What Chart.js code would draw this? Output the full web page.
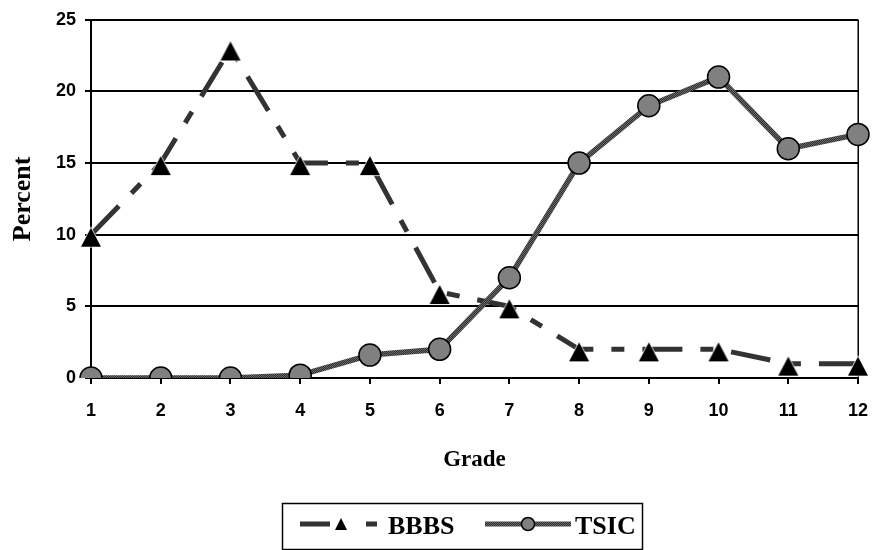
<!DOCTYPE html>
<html>
<head>
<meta charset="utf-8">
<script src="https://cdn.jsdelivr.net/npm/chart.js@4.4.1/dist/chart.umd.min.js"></script>
<style>
  html, body { margin: 0; padding: 0; background: #fff; }
  #wrap { width: 874px; height: 550px; position: relative; }
</style>
</head>
<body>
<div id="wrap"><canvas id="chart"></canvas></div>
<script>
const grades = ['1', '2', '3', '4', '5', '6', '7', '8', '9', '10', '11', '12'];
const bbbs = [10, 15, 23, 15, 15, 6, 5, 2, 2, 2, 1, 1];
const tsic = [0, 0, 0, 0.2, 1.6, 2, 7, 15, 19, 21, 16, 17];
const seriesNames = ['BBBS', 'TSIC'];
const yRange = [0, 25];
const yStep = 5;

const tickFont = { family: '"Liberation Sans", Arial, sans-serif', size: 18, weight: 'bold' };
const serif = '"Liberation Serif", "Times New Roman", serif';

// hatched grey used for the TSIC line
function hatch() {
  const c = document.createElement('canvas');
  c.width = 2; c.height = 2;
  const g = c.getContext('2d');
  g.fillStyle = '#2e2e2e'; g.fillRect(0, 0, 2, 2);
  g.fillStyle = '#6a6a6a'; g.fillRect(0, 0, 1, 1); g.fillRect(1, 1, 1, 1);
  return g.createPattern(c, 'repeat');
}

// excel style triangle: sits a little below the data point
function triangleMarker() {
  const c = document.createElement('canvas');
  c.width = 24; c.height = 40;
  const g = c.getContext('2d');
  g.beginPath();
  g.moveTo(12, 20 - 7);
  g.lineTo(22, 20 + 12);
  g.lineTo(2, 20 + 12);
  g.closePath();
  g.fillStyle = '#000';
  g.strokeStyle = '#fff';
  g.lineWidth = 1.5;
  g.stroke();
  g.fill();
  return c;
}

const hatchPattern = hatch();
const tri = triangleMarker();
const bbbsDash = [40, 18, 13, 18];

const frame = {
  id: 'frame',
  beforeDatasetsDraw(chart) {
    const { ctx, chartArea: a } = chart;
    ctx.save();
    ctx.strokeStyle = '#000';
    ctx.lineWidth = 1.5;
    ctx.beginPath();
    ctx.moveTo(Math.round(a.right) + 0.25, a.top);
    ctx.lineTo(Math.round(a.right) + 0.25, a.bottom);
    ctx.stroke();
    ctx.restore();
  }
};

const legendBox = {
  id: 'legendBox',
  afterDraw(chart) {
    const ctx = chart.ctx;
    const cy = 524;
    ctx.save();
    ctx.strokeStyle = '#000';
    ctx.lineWidth = 1.5;
    ctx.strokeRect(282.5, 503.5, 360, 46);

    // BBBS sample
    ctx.strokeStyle = '#333';
    ctx.lineWidth = 5;
    ctx.beginPath();
    ctx.moveTo(300, cy); ctx.lineTo(330, cy);
    ctx.moveTo(366, cy); ctx.lineTo(377, cy);
    ctx.stroke();
    ctx.fillStyle = '#000';
    ctx.beginPath();
    ctx.moveTo(341, cy - 6); ctx.lineTo(347, cy + 6); ctx.lineTo(335, cy + 6);
    ctx.closePath(); ctx.fill();

    // TSIC sample
    ctx.strokeStyle = hatchPattern;
    ctx.lineWidth = 5;
    ctx.beginPath();
    ctx.moveTo(485, cy); ctx.lineTo(571, cy);
    ctx.stroke();
    ctx.beginPath();
    ctx.arc(528, cy, 6.5, 0, Math.PI * 2);
    ctx.fillStyle = '#808080'; ctx.fill();
    ctx.strokeStyle = '#000'; ctx.lineWidth = 1.5; ctx.stroke();

    ctx.fillStyle = '#000';
    ctx.font = 'bold 26px ' + serif;
    ctx.textBaseline = 'middle';
    ctx.textAlign = 'left';
    ctx.fillText(seriesNames[0], 388, cy + 3);
    ctx.fillText(seriesNames[1], 575, cy + 3);
    ctx.restore();
  }
};

new Chart(document.getElementById('chart'), {
  type: 'line',
  data: {
    labels: grades,
    datasets: [
      {
        label: seriesNames[0],
        data: bbbs,
        order: 1,
        borderColor: '#333',
        borderWidth: 5,
        borderDash: bbbsDash,
        borderCapStyle: 'butt',
        tension: 0,
        pointStyle: tri,
        pointRadius: 11,
        pointHoverRadius: 11
      },
      {
        label: seriesNames[1],
        data: tsic,
        order: 0,
        borderColor: hatchPattern,
        borderWidth: 5.5,
        tension: 0,
        pointStyle: 'circle',
        pointRadius: 11,
        pointHoverRadius: 11,
        pointBackgroundColor: '#808080',
        pointBorderColor: '#000',
        pointBorderWidth: 1.5
      }
    ]
  },
  options: {
    responsive: true,
    maintainAspectRatio: false,
    animation: false,
    events: [],
    layout: { padding: { left: 0, right: 14, top: 19, bottom: 76 } },
    plugins: {
      legend: { display: false },
      tooltip: { enabled: false }
    },
    scales: {
      x: {
        offset: false,
        grid: { drawOnChartArea: false, color: '#000', lineWidth: 2, tickLength: 6 },
        border: { display: true, color: '#000', width: 2 },
        ticks: { color: '#000', font: tickFont, padding: 16, maxRotation: 0 },
        title: {
          display: true, text: 'Grade', color: '#000',
          font: { family: serif, size: 23, weight: 'bold' },
          padding: { top: 5, bottom: 0 }
        },
        afterFit(s) {
          s.height = 96;
          s.paddingLeft = 0;
          s.paddingRight = 0;
        }
      },
      y: {
        min: yRange[0],
        max: yRange[1],
        grid: { color: '#000', lineWidth: 2, tickLength: 6 },
        border: { display: true, color: '#000', width: 2 },
        ticks: { stepSize: yStep, color: '#000', font: tickFont, padding: 9 },
        title: {
          display: true, text: 'Percent', color: '#000',
          font: { family: serif, size: 26, weight: 'bold' },
          padding: { top: 8, bottom: 0 }
        },
        afterFit(s) { s.width = 91; }
      }
    }
  },
  plugins: [frame, legendBox]
});
</script>
</body>
</html>
